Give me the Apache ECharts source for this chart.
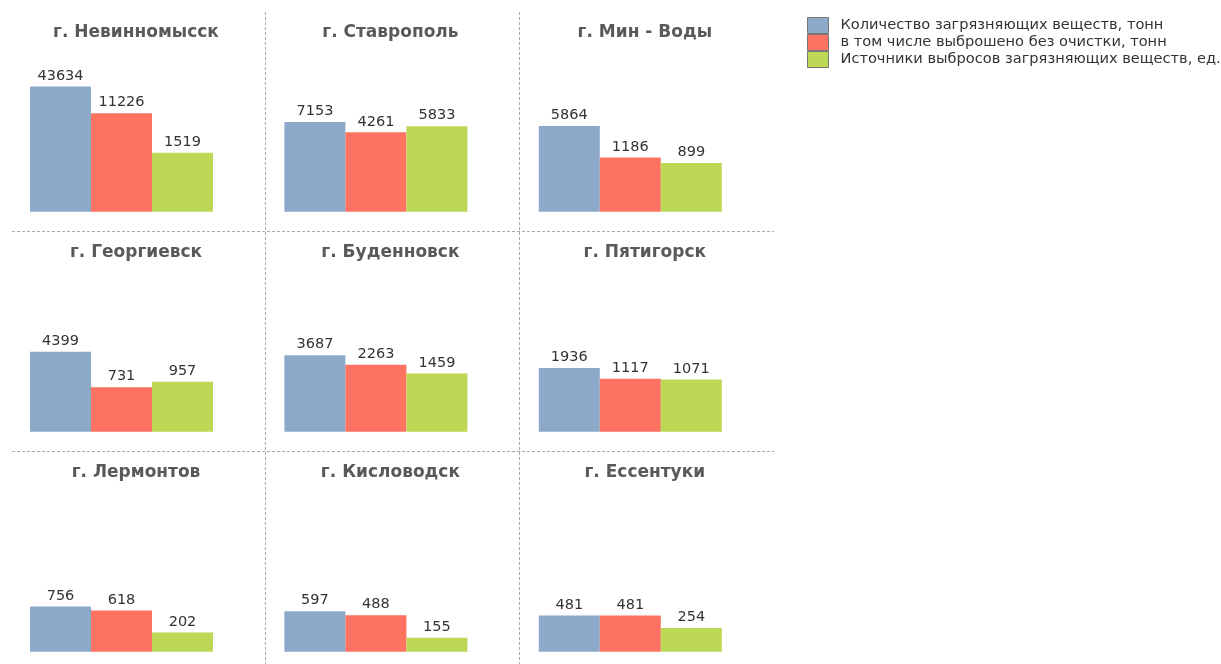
<!DOCTYPE html>
<html>
<head>
<meta charset="utf-8">
<script src="https://cdn.jsdelivr.net/npm/echarts@6/dist/echarts.min.js"></script>
<style>
  html, body { margin: 0; padding: 0; background: #fff; }
  #chart { width: 1221px; height: 664px; }
</style>
</head>
<body>
<div id="chart"></div>
<script>
// города (по строкам 3x3)
const cities = ['г. Невинномысск', 'г. Ставрополь', 'г. Мин - Воды',
                'г. Георгиевск', 'г. Буденновск', 'г. Пятигорск',
                'г. Лермонтов', 'г. Кисловодск', 'г. Ессентуки'];

const seriesNames = ['Количество загрязняющих веществ, тонн',
                     'в том числе выброшено без очистки, тонн',
                     'Источники выбросов загрязняющих веществ, ед.'];

const pollutants = [43634, 7153, 5864, 4399, 3687, 1936, 756, 597, 481];
const untreated  = [11226, 4261, 1186, 731, 2263, 1117, 618, 488, 481];
const sources    = [1519, 5833, 899, 957, 1459, 1071, 202, 155, 254];

const colors = ['#8CA9C9', '#FE7262', '#BCD855'];
const font = 'DejaVu Sans';

let grids = [], xAxes = [], yAxes = [], titles = [], series = [];
const valueSets = [pollutants, untreated, sources];

for (let i = 0; i < cities.length; i++) {
    const col = i % 3, row = Math.floor(i / 3);
    const left = 30 + col * 254.4;
    grids.push({ left: left, width: 183, top: 70 + row * 220, height: 141.7 });
    xAxes.push({ gridIndex: i, type: 'category', data: [cities[i]], show: false });
    // логарифмическая шкала, как в оригинале
    yAxes.push({ gridIndex: i, type: 'log', min: 76.7, max: 100000, show: false });
    titles.push({
        text: cities[i],
        left: left + 106,
        textAlign: 'center',
        top: 24 + row * 220,
        padding: 0,
        textStyle: { fontFamily: font, fontSize: 17, fontWeight: 'bold', color: '#595959' }
    });
    for (let s = 0; s < 3; s++) {
        series.push({
            name: seriesNames[s],
            type: 'bar',
            xAxisIndex: i,
            yAxisIndex: i,
            barGap: 0,
            barCategoryGap: 0,
            clip: true,
            itemStyle: { color: colors[s] },
            label: {
                show: true,
                position: 'top',
                distance: 3,
                fontFamily: font,
                fontSize: 14.5,
                color: '#333'
            },
            data: [valueSets[s][i]]
        });
    }
}

// пунктирные разделители
const dash = { stroke: '#aaa', lineWidth: 1, lineDash: [3, 2] };
const graphic = [
    { type: 'line', shape: { x1: 12, y1: 231.5, x2: 774, y2: 231.5 }, style: dash, silent: true },
    { type: 'line', shape: { x1: 12, y1: 451.5, x2: 774, y2: 451.5 }, style: dash, silent: true },
    { type: 'line', shape: { x1: 265.5, y1: 12, x2: 265.5, y2: 664 }, style: dash, silent: true },
    { type: 'line', shape: { x1: 519.5, y1: 12, x2: 519.5, y2: 664 }, style: dash, silent: true }
];

const option = {
    animation: false,
    title: titles,
    grid: grids,
    xAxis: xAxes,
    yAxis: yAxes,
    legend: {
        data: seriesNames,
        orient: 'vertical',
        left: 807,
        top: 17,
        padding: 0,
        itemGap: 0,
        itemWidth: 21,
        itemHeight: 16,
        icon: 'rect',
        itemStyle: { borderColor: '#777', borderWidth: 1 },
        textStyle: { fontFamily: font, fontSize: 14.6, color: '#333', lineHeight: 16, padding: [0, 0, 0, 7] }
    },
    graphic: graphic,
    series: series
};

const chart = echarts.init(document.getElementById('chart'));
chart.setOption(option);
</script>
</body>
</html>
